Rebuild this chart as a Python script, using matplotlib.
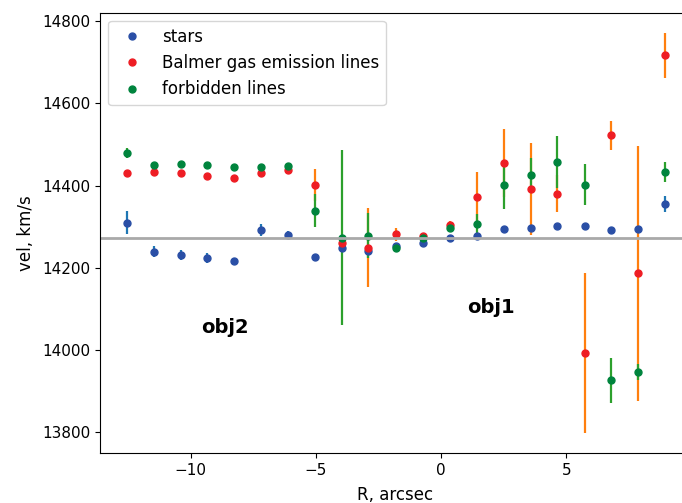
import matplotlib
matplotlib.use('Agg')
import matplotlib.pyplot as plt

R = [-12.55, -11.48, -10.4, -9.35, -8.27, -7.2, -6.1, -5.04, -3.97, -2.91,
     -1.81, -0.71, 0.35, 1.44, 2.49, 3.59, 4.64, 5.73, 6.77, 7.87, 8.93]

stars_vel = [14310, 14240, 14231, 14224, 14217, 14292, 14281, 14226, 14248, 14242,
             14254, 14260, 14274, 14277, 14295, 14298, 14303, 14301, 14292, 14294, 14356]
stars_err = [28, 14, 12, 12, 8, 14, 8, 5, 5, 10,
             5, 5, 4, 4, 4, 4, 5, 6, 7, 5, 20]

balmer_vel = [14431, 14433, 14431, 14423, 14419, 14431, 14439, 14402, 14261, 14249,
              14282, 14277, 14305, 14373, 14456, 14392, 14381, 13993, 14523, 14187, 14717]
balmer_err = [4, 4, 4, 4, 4, 4, 5, 38, 8, 96,
              16, 6, 8, 61, 83, 111, 44, 195, 35, 310, 55]

forb_vel = [14480, 14451, 14454, 14451, 14446, 14446, 14447, 14339, 14274, 14278,
            14249, 14272, 14298, 14307, 14402, 14425, 14457, 14402, 13927, 13947, 14433]
forb_err = [12, 4, 4, 4, 4, 4, 8, 40, 212, 55,
            5, 5, 8, 24, 59, 42, 63, 50, 55, 20, 24]

v_sys = 14272

plt.rcParams['font.size'] = 11
fig = plt.figure(figsize=(6.82, 5.03), dpi=100)
# the original is cropped: right spine sits just past the image edge
ax = fig.add_axes([100 / 682, 49.7 / 503, 591 / 682, 440.6 / 503])

# error bars first (default colour cycle), then the coloured dots on top
ax.errorbar(R, stars_vel, yerr=stars_err, fmt='none', ecolor='tab:blue', elinewidth=1.6)
ax.errorbar(R, balmer_vel, yerr=balmer_err, fmt='none', ecolor='tab:orange', elinewidth=1.6)
ax.errorbar(R, forb_vel, yerr=forb_err, fmt='none', ecolor='tab:green', elinewidth=1.6)

ax.plot(R, stars_vel, 'o', color='#2a4fa6', ms=5, label='stars')
ax.plot(R, balmer_vel, 'o', color='#ee1d24', ms=5, label='Balmer gas emission lines')
ax.plot(R, forb_vel, 'o', color='#00843d', ms=5, label='forbidden lines')

ax.axhline(v_sys, color='darkgray', lw=2)

ax.text(-9.57, 14054, 'obj2', fontsize=14, fontweight='bold', va='center')
ax.text(1.05, 14104, 'obj1', fontsize=14, fontweight='bold', va='center')

ax.set_xlim(-13.62, 9.97)
ax.set_xlabel('R, arcsec', fontsize=12, labelpad=6)
ax.set_ylabel('vel, km/s', fontsize=12, labelpad=5)
ax.legend(loc='upper left', numpoints=1, fontsize=12)

fig.savefig('out.png', dpi=100)
